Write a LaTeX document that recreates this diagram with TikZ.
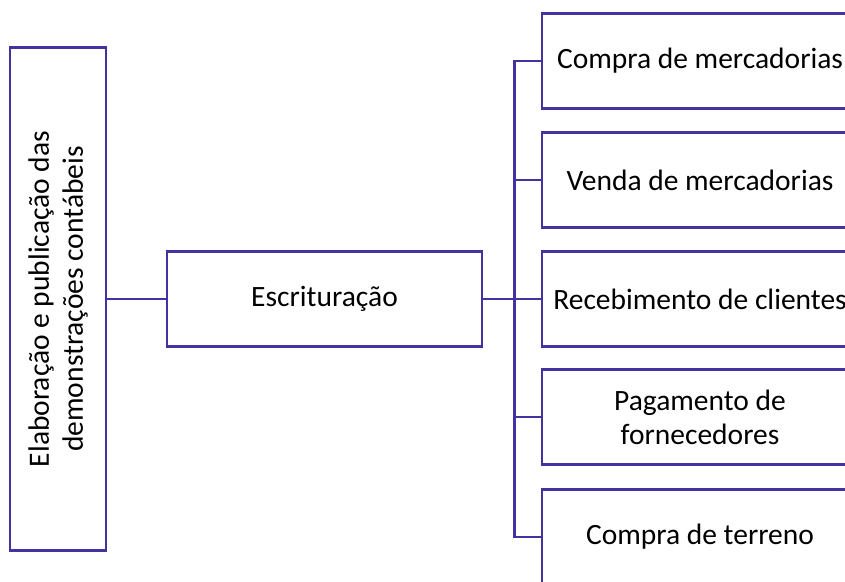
\documentclass[tikz,border=0pt]{standalone}
\usepackage{fontspec}
\setmainfont{Carlito}
\usepackage{xcolor}
\definecolor{linha}{RGB}{68,50,160}

\begin{document}
\begin{tikzpicture}[x=1pt,y=-1pt,
    caixa/.style={draw=linha,line width=2.6pt,fill=white,inner sep=0pt,align=center,
      font=\fontsize{29.5}{34}\selectfont},
    liga/.style={draw=linha,line width=2.6pt}]%
    \useasboundingbox (0,0) rectangle (845,581);%
    \clip (0,0) rectangle (845,581);%
    \node[caixa,rotate=90,minimum width=503,minimum height=96] (elab) at (58,299)
      {Elaboração e publicação das\\demonstrações contábeis};%
    \node[caixa,minimum width=315,minimum height=95] (escr) at (324.5,299) {Escrituração};%
    \node[caixa,minimum width=316,minimum height=95] (compra) at (700,61) {Compra de mercadorias};%
    \node[caixa,minimum width=316,minimum height=95] (venda) at (700,180) {Venda de mercadorias};%
    \node[caixa,minimum width=316,minimum height=95] (receb) at (700,299) {Recebimento de clientes};%
    \node[caixa,minimum width=316,minimum height=95] (pagam) at (700,417) {Pagamento de\\fornecedores};%
    \node[caixa,minimum width=316,minimum height=95] (terreno) at (700,537) {Compra de terreno};%
    \draw[liga] (elab.south) -- (escr.west);%
    \draw[liga] (escr.east) -- (receb.west);%
    \foreach \n in {compra,venda,receb,pagam,terreno}
      \draw[liga] (escr.east) -- ++(31,0) |- (\n.west);%
  \end{tikzpicture}
\end{document}
